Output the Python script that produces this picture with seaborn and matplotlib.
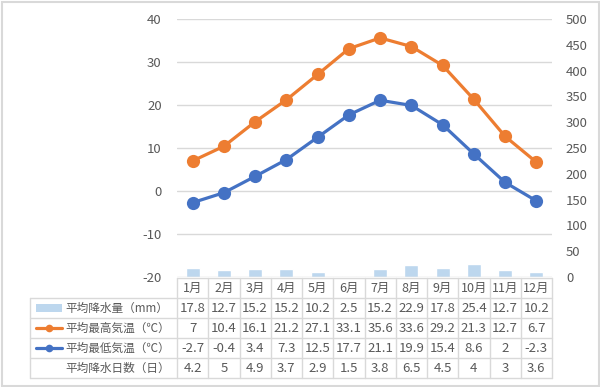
import matplotlib
matplotlib.use("Agg")
import matplotlib.pyplot as plt
import seaborn as sns
import pandas as pd
from matplotlib.patches import Rectangle
from matplotlib.lines import Line2D

months = ["1月", "2月", "3月", "4月", "5月", "6月", "7月", "8月", "9月", "10月", "11月", "12月"]
precip = [17.8, 12.7, 15.2, 15.2, 10.2, 2.5, 15.2, 22.9, 17.8, 25.4, 12.7, 10.2]
high = [7, 10.4, 16.1, 21.2, 27.1, 33.1, 35.6, 33.6, 29.2, 21.3, 12.7, 6.7]
low = [-2.7, -0.4, 3.4, 7.3, 12.5, 17.7, 21.1, 19.9, 15.4, 8.6, 2, -2.3]
rain_days = [4.2, 5, 4.9, 3.7, 2.9, 1.5, 3.8, 6.5, 4.5, 4, 3, 3.6]
row_labels = ["平均降水量（mm）", "平均最高気温（℃）", "平均最低気温（℃）", "平均降水日数（日）"]
left_ticks = [-20, -10, 0, 10, 20, 30, 40]
right_ticks = [0, 50, 100, 150, 200, 250, 300, 350, 400, 450, 500]

C_BAR = "#BDD7EE"
C_HIGH = "#ED7D31"
C_LOW = "#4472C4"
C_TXT = "#595959"
C_GRID = "#D9D9D9"

sns.set_style("white")
plt.rcParams["font.family"] = ["Noto Sans CJK JP", "DejaVu Sans"]
plt.rcParams["font.size"] = 9.5
plt.rcParams["axes.unicode_minus"] = False

df = pd.DataFrame({"x": list(range(12)), "month": months, "precip": precip, "high": high, "low": low})

W, H = 600, 387
fig = plt.figure(figsize=(6, 3.87), dpi=100)

px0, px1 = 177, 552
py_top, py_bot = 19, 277
ax = fig.add_axes([px0 / W, 1 - py_bot / H, (px1 - px0) / W, (py_bot - py_top) / H])
ax2 = ax.twinx()

# bars (right axis)
sns.barplot(data=df, x="x", y="precip", ax=ax2, color=C_BAR, width=0.45, saturation=1, native_scale=True)
ax2.set_ylim(0, 500)
ax2.set_yticks(right_ticks)
ax2.set_xlim(-0.5, 11.5)

# lines (left axis)
ax.set_zorder(ax2.get_zorder() + 1)
ax.patch.set_visible(False)
sns.lineplot(data=df, x="x", y="high", ax=ax, color=C_HIGH, marker="o", markersize=9.5,
             linewidth=2.3, markeredgewidth=0, zorder=4)
sns.lineplot(data=df, x="x", y="low", ax=ax, color=C_LOW, marker="o", markersize=9.5,
             linewidth=2.3, markeredgewidth=0, zorder=4)
ax.set_ylim(-20, 40)
ax.set_yticks(left_ticks)
ax.set_xlim(-0.5, 11.5)
ax.set_xticks([])
ax2.set_xticks([])
ax.set_xlabel("")
ax.set_ylabel("")
ax2.set_xlabel("")
ax2.set_ylabel("")
ax.grid(axis="y", color=C_GRID, linewidth=1)
ax.set_axisbelow(True)
for a in (ax, ax2):
    for s in a.spines.values():
        s.set_visible(False)
ax.tick_params(axis="y", length=0, pad=11, labelcolor=C_TXT, labelsize=9.5)
ax2.tick_params(axis="y", length=0, pad=10, labelcolor=C_TXT, labelsize=9.5)

# data table
tx0, tx1 = 30, 552
ty0, ty1 = 278, 378
colw = (px1 - px0) / 12.0
xleft = (tx0 - px0) / colw - 0.5
tab = fig.add_axes([tx0 / W, 1 - ty1 / H, (tx1 - tx0) / W, (ty1 - ty0) / H])
tab.set_xlim(xleft, 11.5)
tab.set_ylim(5, 0)
tab.axis("off")
lc = "#D9D9D9"
tab.plot([-0.5, 11.5], [0, 0], color=lc, lw=1, clip_on=False)
for r in range(1, 6):
    tab.plot([xleft, 11.5], [r, r], color=lc, lw=1, clip_on=False)
for k in range(13):
    tab.plot([-0.5 + k, -0.5 + k], [0, 5], color=lc, lw=1, clip_on=False)
tab.plot([xleft, xleft], [1, 5], color=lc, lw=1, clip_on=False)

fs = 9.5
for i, m in enumerate(months):
    tab.text(i, 0.5, m, ha="center", va="center", color=C_TXT, fontsize=9)
rows = [precip, high, low, rain_days]
for r, vals in enumerate(rows):
    for i, v in enumerate(vals):
        tab.text(i, r + 1.5, f"{v:g}", ha="center", va="center", color=C_TXT, fontsize=fs)

# legend keys in the table
kx0 = xleft + (36 - tx0) / colw
kx1 = xleft + (62 - tx0) / colw
tab.add_patch(Rectangle((kx0, 1.32), kx1 - kx0, 0.36, facecolor=C_BAR, edgecolor="none"))
for r, c in [(2, C_HIGH), (3, C_LOW)]:
    tab.add_line(Line2D([kx0, kx1], [r + 0.5, r + 0.5], color=c, lw=2.3))
    tab.add_line(Line2D([(kx0 + kx1) / 2], [r + 0.5], color=c, marker="o", markersize=5.5,
                        markeredgewidth=0))
textx = xleft + (65 - tx0) / colw
for r, lab in enumerate(row_labels):
    tab.text(textx, r + 1.5, lab, ha="left", va="center", color=C_TXT, fontsize=8.4)

# outer frame
fig.patches.append(Rectangle((1.5 / W, 1.5 / H), 1 - 3 / W, 1 - 3 / H, transform=fig.transFigure,
                             facecolor="none", edgecolor=C_GRID, linewidth=1.5))

fig.savefig("out.png", dpi=100)
